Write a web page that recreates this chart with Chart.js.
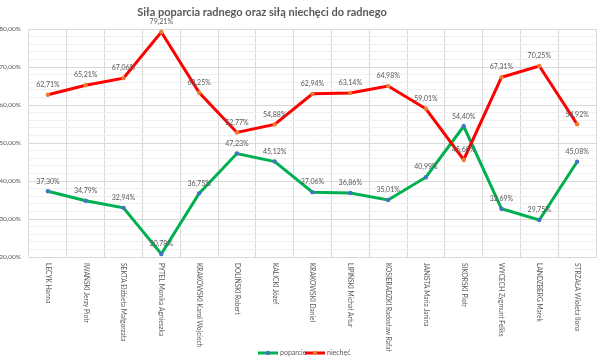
<!DOCTYPE html>
<html lang="pl">
<head>
  <meta charset="UTF-8" />
  <title>Siła poparcia radnego oraz siłą niechęci do radnego</title>
  <script src="https://cdn.jsdelivr.net/npm/chart.js"></script>
  <style>
    html, body { margin: 0; padding: 0; background: #fff; }
    #wrap { width: 600px; height: 362px; }
  </style>
</head>
<body>
  <div id="wrap"><canvas id="chart" width="600" height="362"></canvas></div>
  <script>
    const names = [
      'LECYK Hanna', 'IWAŃSKI Jerzy Piotr', 'SEKTA Elżbieta Małgorzata', 'PYTEL Monika Agnieszka',
      'KRAKOWSKI Karol Wojciech', 'DOLIŃSKI Robert', 'KALICKI Józef', 'KRAKOWSKI Daniel',
      'LIPIŃSKI Michał Artur', 'KOSIERADZKI Radosław Rafał', 'JANISTA Maria Janina', 'SIKORSKI Piotr',
      'WYCECH Zygmunt Feliks', 'LANDZBERG Marek', 'STRZAŁA Wioleta Ilona'
    ];
    const poparcie = [37.30, 34.79, 32.94, 20.78, 36.75, 47.23, 45.12, 37.06, 36.86, 35.01, 40.99, 54.40, 32.69, 29.75, 45.08];
    const niechec = [62.71, 65.21, 67.06, 79.21, 63.25, 52.77, 54.88, 62.94, 63.14, 64.98, 59.01, 45.60, 67.31, 70.25, 54.92];
    const yMin = 20, yMax = 80;

    const FONT = 'Lato, "Liberation Sans", sans-serif';
    const GREY = '#595959';
    const fmt = v => v.toFixed(2).replace('.', ',') + '%';

    // labels above points, rotated category names, title and legend
    const extras = {
      id: 'extras',
      afterDatasetsDraw(chart) {
        const ctx = chart.ctx;
        ctx.save();
        ctx.font = '7px ' + FONT;
        ctx.fillStyle = GREY;
        ctx.textAlign = 'center';
        ctx.textBaseline = 'middle';
        chart.data.datasets.forEach((ds, i) => {
          chart.getDatasetMeta(i).data.forEach((pt, j) => {
            ctx.fillText(fmt(ds.data[j]), pt.x, pt.y - 10);
          });
        });
        ctx.restore();
      },
      afterDraw(chart) {
        const ctx = chart.ctx;
        const x = chart.scales.x;
        const area = chart.chartArea;
        ctx.save();
        ctx.fillStyle = GREY;
        ctx.font = '6.6px ' + FONT;
        ctx.textAlign = 'left';
        ctx.textBaseline = 'middle';
        names.forEach((n, i) => {
          ctx.save();
          ctx.translate(x.getPixelForValue(i), area.bottom + 6);
          ctx.rotate(Math.PI / 2);
          ctx.fillText(n, 0, 0);
          ctx.restore();
        });

        ctx.font = 'bold 11px ' + FONT;
        ctx.textAlign = 'center';
        ctx.fillText('Siła poparcia radnego oraz siłą niechęci do radnego', 262, 12);

        // legend
        const items = [
          { t: 'poparcie', line: '#00B050', dot: '#4472C4', x: 258 },
          { t: 'niechęć', line: '#FF0000', dot: '#ED7D31', x: 305 }
        ];
        ctx.font = '7px ' + FONT;
        ctx.textAlign = 'left';
        items.forEach(it => {
          const y = 353;
          ctx.strokeStyle = it.line;
          ctx.lineWidth = 3;
          ctx.beginPath();
          ctx.moveTo(it.x, y);
          ctx.lineTo(it.x + 20, y);
          ctx.stroke();
          ctx.fillStyle = it.dot;
          ctx.beginPath();
          ctx.arc(it.x + 10, y, 2.2, 0, Math.PI * 2);
          ctx.fill();
          ctx.fillStyle = GREY;
          ctx.fillText(it.t, it.x + 22, y);
        });
        ctx.restore();
      }
    };

    new Chart(document.getElementById('chart'), {
      type: 'line',
      data: {
        labels: names,
        datasets: [
          {
            label: 'poparcie', data: poparcie, order: 1,
            borderColor: '#00B050', borderWidth: 3, tension: 0,
            pointBackgroundColor: '#4472C4', pointBorderColor: '#4472C4',
            pointRadius: 2.2, pointBorderWidth: 0
          },
          {
            label: 'niechęć', data: niechec, order: 0,
            borderColor: '#FF0000', borderWidth: 3, tension: 0,
            pointBackgroundColor: '#ED7D31', pointBorderColor: '#ED7D31',
            pointRadius: 2.2, pointBorderWidth: 0
          }
        ]
      },
      options: {
        responsive: false,
        animation: false,
        devicePixelRatio: 1,
        layout: { padding: { top: 29, right: 4, left: 0, bottom: 0 } },
        plugins: { legend: { display: false }, title: { display: false }, tooltip: { enabled: false } },
        scales: {
          x: {
            offset: true,
            grid: { offset: true, color: '#d9d9d9', drawTicks: false },
            border: { color: '#d9d9d9' },
            ticks: { display: false },
            afterFit(s) { s.height = 105; }
          },
          y: {
            min: yMin, max: yMax,
            grid: {
              drawTicks: false,
              color: c => (c.tick && c.tick.value % 10 === 0) ? '#d9d9d9' : '#f0f0f0'
            },
            border: { display: false },
            ticks: {
              stepSize: 2, autoSkip: false, padding: 8,
              color: GREY, font: { size: 6.5, family: FONT },
              callback: v => v % 10 === 0 ? fmt(v) : ''
            },
            afterFit(s) { s.width = 29; }
          }
        }
      },
      plugins: [extras]
    });
  </script>
</body>
</html>
